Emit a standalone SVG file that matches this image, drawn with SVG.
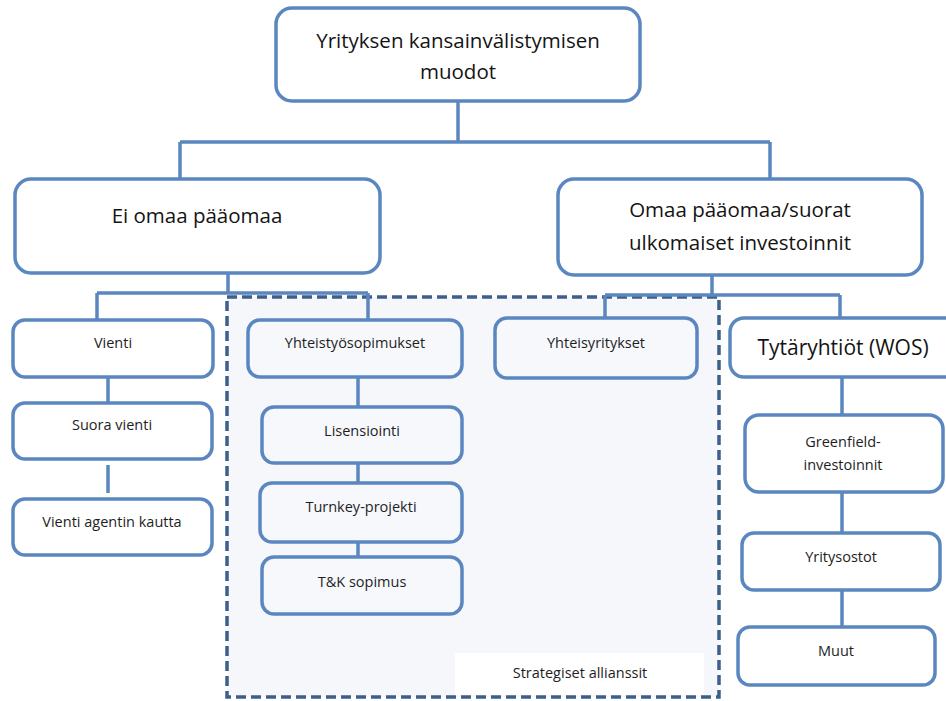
<svg xmlns="http://www.w3.org/2000/svg" width="946" height="701" viewBox="0 0 946 701">
  <style>
    .box { fill: #ffffff; stroke: #5b87c0; stroke-width: 3.5; }
    .inbox { fill: #f7f8fc; stroke: #5b87c0; stroke-width: 3.5; }
    .link { fill: none; stroke: #5b87c0; stroke-width: 3.5; }
    .big { font-family: "Open Sans", "Liberation Sans", sans-serif; font-size: 20.5px; fill: #141414; text-anchor: middle; }
    .small { font-family: "Open Sans", "Liberation Sans", sans-serif; font-size: 14.5px; fill: #1e1e1e; text-anchor: middle; }
  </style>

  <!-- strategic alliance area -->
  <g id="allianssit">
    <rect x="227" y="297" width="492" height="400" fill="#f6f7fb" stroke="#3e5f8a" stroke-width="3.5" stroke-dasharray="10 5"/>
    <rect x="455" y="653" width="249" height="42" fill="#ffffff"/>
    <text class="small" x="580" y="678">Strategiset allianssit</text>
  </g>

  <!-- connectors -->
  <g id="connectors">
    <path class="link" d="M458 101 V142 M180 142 H770 M180 142 V178 M770 142 V178"/>
    <path class="link" d="M228 273 V293 M97 293 H368 M97 293 V320 M368 293 V320"/>
    <path class="link" d="M712 275 V295 M605 295 H840 M605 295 V318 M840 295 V318"/>
    <path class="link" d="M108 377 V403 M108 465 V493"/>
    <path class="link" d="M358 377 V407 M358 460 V483 M358 542 V557"/>
    <path class="link" d="M842 377 V415 M842 492 V533 M842 590 V627"/>
  </g>

  <g id="root">
    <rect class="box" x="276" y="8" width="364" height="93" rx="16"/>
    <text class="big" x="458" y="48">Yrityksen kansainvälistymisen</text>
    <text class="big" x="458" y="79">muodot</text>
  </g>

  <g id="ei-omaa">
    <rect class="box" x="15" y="179" width="365" height="94" rx="16"/>
    <text class="big" x="197" y="223">Ei omaa pääomaa</text>
  </g>

  <g id="omaa">
    <rect class="box" x="558" y="179" width="364" height="96" rx="16"/>
    <text class="big" x="740" y="217">Omaa pääomaa/suorat</text>
    <text class="big" x="740" y="250">ulkomaiset investoinnit</text>
  </g>

  <g id="vienti">
    <rect class="box" x="13" y="320" width="200" height="57" rx="12"/>
    <text class="small" x="113" y="348">Vienti</text>
  </g>
  <g id="suora-vienti">
    <rect class="box" x="13" y="403" width="199" height="56" rx="12"/>
    <text class="small" x="112" y="430">Suora vienti</text>
  </g>
  <g id="agentti">
    <rect class="box" x="13" y="499" width="199" height="56" rx="12"/>
    <text class="small" x="112" y="527">Vienti agentin kautta</text>
  </g>

  <g id="yhteistyo">
    <rect class="inbox" x="248" y="320" width="214" height="57" rx="12"/>
    <text class="small" x="355" y="348">Yhteistyösopimukset</text>
  </g>
  <g id="lisensiointi">
    <rect class="inbox" x="262" y="407" width="200" height="56" rx="12"/>
    <text class="small" x="362" y="436">Lisensiointi</text>
  </g>
  <g id="turnkey">
    <rect class="inbox" x="260" y="483" width="202" height="59" rx="12"/>
    <text class="small" x="361" y="512">Turnkey-projekti</text>
  </g>
  <g id="tk">
    <rect class="inbox" x="262" y="557" width="200" height="57" rx="12"/>
    <text class="small" x="362" y="587">T&amp;K sopimus</text>
  </g>

  <g id="yhteisyritykset">
    <rect class="inbox" x="495" y="318" width="202" height="60" rx="12"/>
    <text class="small" x="596" y="348">Yhteisyritykset</text>
  </g>

  <g id="tytaryhtiot">
    <rect class="box" x="730" y="318" width="230" height="59" rx="14"/>
    <text class="big" x="843" y="355" style="font-size:21px">Tytäryhtiöt (WOS)</text>
  </g>
  <g id="greenfield">
    <rect class="box" x="745" y="415" width="198" height="77" rx="14"/>
    <text class="small" x="843" y="447">Greenfield-</text>
    <text class="small" x="843" y="470">investoinnit</text>
  </g>
  <g id="yritysostot">
    <rect class="box" x="742" y="533" width="198" height="57" rx="12"/>
    <text class="small" x="841" y="562">Yritysostot</text>
  </g>
  <g id="muut">
    <rect class="box" x="738" y="627" width="197" height="58" rx="12"/>
    <text class="small" x="836" y="656">Muut</text>
  </g>
</svg>
